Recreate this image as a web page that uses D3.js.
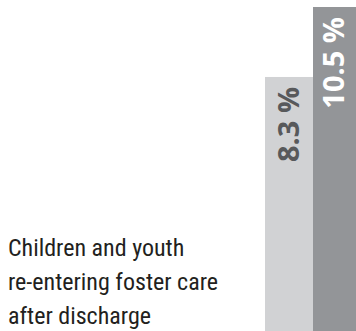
<!DOCTYPE html>
<meta charset="utf-8">
<style>
  body { margin: 0; background: #fff; }
</style>
<div id="chart_area"></div>
<script src="https://d3js.org/d3.v7.min.js"></script>
<script>

    // data
    var categories = ["before", "after"];
    var values = [8.3, 10.5];
    var valueLabels = ["8.3 %", "10.5 %"];
    var titleLines = ["Children and youth", "re-entering foster care", "after discharge"];

    var width = 356, height = 331;

    var svg = d3.select("#chart_area")
      .append("svg")
        .attr("width", width)
        .attr("height", height);

    // x: two touching bars at the right edge
    var x = d3.scaleBand()
        .domain(categories)
        .range([265, 361])
        .padding(0);

    // y: baseline sits a little below the picture
    var y = d3.scaleLinear()
        .domain([0, d3.max(values)])
        .range([341, 7]);

    var fills = ["#d1d2d4", "#939598"];
    var textFills = ["#58595b", "#ffffff"];

    svg.selectAll("rect.bar")
      .data(values)
      .enter()
      .append("rect")
        .attr("class", "bar")
        .attr("x", function(d, i){ return x(categories[i]) })
        .attr("y", function(d){ return y(d) })
        .attr("width", x.bandwidth())
        .attr("height", function(d){ return y(0) - y(d) })
        .attr("fill", function(d, i){ return fills[i] });

    // rotated value labels inside the top of each bar
    svg.selectAll("text.val")
      .data(values)
      .enter()
      .append("text")
        .attr("class", "val")
        .attr("transform", function(d, i){
          var cx = x(categories[i]) + x.bandwidth() / 2 - (i == 1 ? 3 : 0);
          return "translate(" + cx + "," + (y(d) + 10) + ") rotate(-90)";
        })
        .attr("text-anchor", "end")
        .attr("dy", "0.36em")
        .attr("font-family", "'Open Sans', sans-serif")
        .attr("font-weight", "bold")
        .attr("font-size", 29)
        .attr("fill", function(d, i){ return textFills[i] })
        .text(function(d, i){ return valueLabels[i] });

    // caption on the left
    svg.append("text")
        .attr("font-family", "'Liberation Sans Narrow', 'Roboto Condensed', sans-serif")
        .attr("font-size", 24)
        .attr("fill", "#231f20")
      .selectAll("tspan")
      .data(titleLines)
      .enter()
      .append("tspan")
        .attr("x", 8)
        .attr("y", function(d, i){ return 256 + i * 34 })
        .text(function(d){ return d });

</script>
